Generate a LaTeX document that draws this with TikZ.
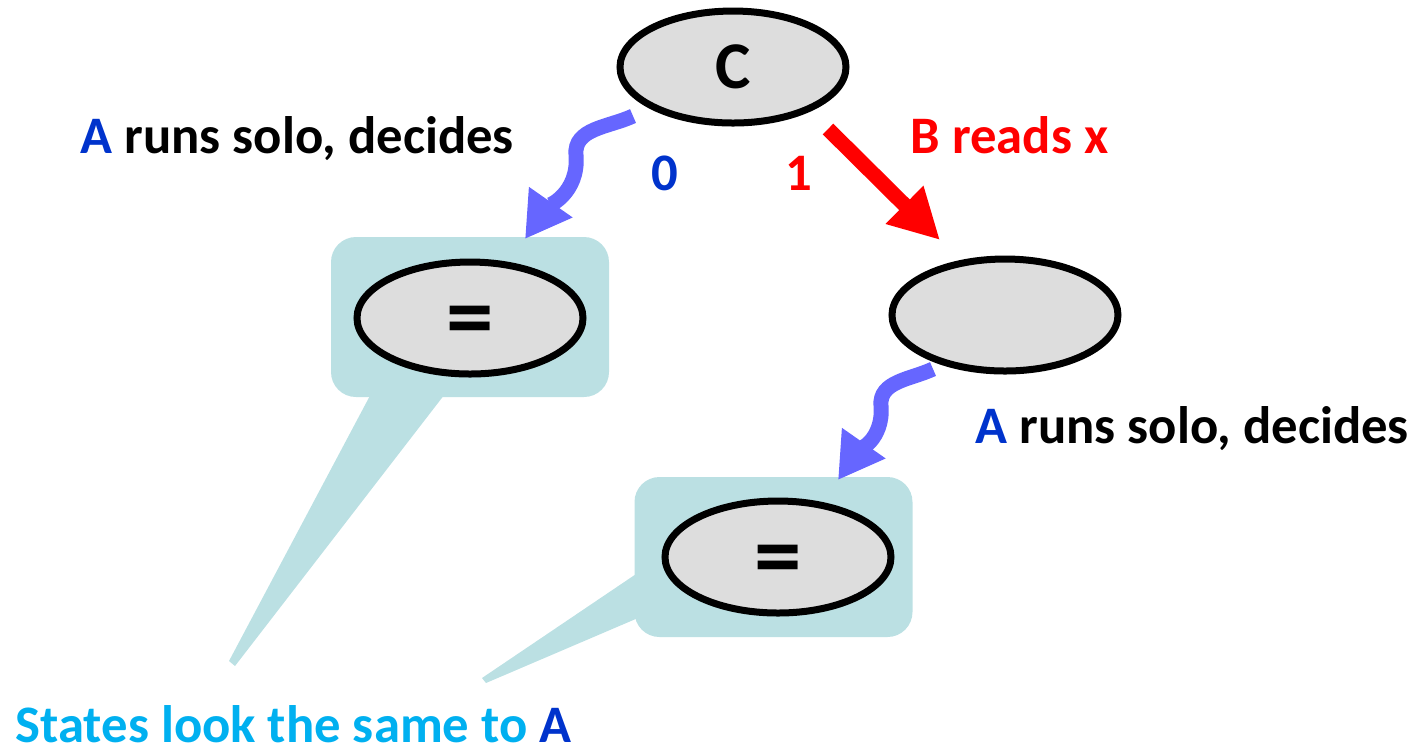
\documentclass[tikz,border=0pt]{standalone}
\usepackage{fontspec}
\setmainfont{Carlito}
\usepackage{xcolor}
\usepackage{tikz}
\usetikzlibrary{positioning, shapes, arrows.meta, calc}

\definecolor{procblue}{HTML}{0033CC}
\definecolor{wavecol}{HTML}{6666FF}
\definecolor{calloutfill}{HTML}{BBE0E3}
\definecolor{statefill}{HTML}{DDDDDD}
\definecolor{notecyan}{HTML}{00B0F0}

\newcommand{\eqmark}{\raisebox{-0.9mm}[\height][0pt]{=}}

\begin{document}
\begin{tikzpicture}[
    state/.style={draw, ellipse, line width=0.07cm, fill=statefill, minimum width=2.26cm, minimum height=1.12cm, font=\fontsize{19}{22}\selectfont\bfseries},
    eqstate/.style={state, font=\fontsize{27}{30}\selectfont\bfseries},
    callout/.style={rectangle, rounded corners=0.25cm, fill=calloutfill, minimum width=2.78cm, minimum height=1.6cm},
    wave/.style={wavecol, line width=0.15cm, -{Triangle[length=0.45cm, width=0.5cm]}},
    note/.style={font=\fontsize{15}{18}\selectfont\bfseries, inner sep=0pt}
  ]
      \useasboundingbox (0,0) rectangle (14.22,-7.52);

      % Callout boxes and their tails
      \fill[calloutfill] (3.73,-3.90) -- (4.48,-3.90) -- (2.35,-6.66) -- (2.29,-6.61) -- cycle;
      \fill[calloutfill] (6.45,-5.68) -- (6.45,-6.15) -- (4.86,-6.83) -- (4.82,-6.78) -- cycle;
      \node[callout] (boxleft) at (4.70,-3.17) {};
      \node[callout] (boxlow) at (7.735,-5.57) {};

      % States
      \node[state] (c) at (7.33,-0.67) {C};
      \node[eqstate] (eqleft) at (4.70,-3.18) {\eqmark};
      \node[state] (right) at (10.05,-3.15) {};
      \node[eqstate] (eqlow) at (7.78,-5.57) {\eqmark};

      % Arrow end points
      \coordinate (w1s) at (6.33,-1.16);
      \coordinate (w1e) at (5.25,-2.39);
      \coordinate (w2s) at (9.33,-3.69);
      \coordinate (w2e) at (8.38,-4.80);
      \coordinate (rs) at (8.28,-1.29);
      \coordinate (re) at (9.40,-2.40);

      % Arrows
      \draw[wave] (w1s) to[out=205,in=95] (5.76,-1.55) to[out=-85,in=55] (w1e);
      \draw[wave] (w2s) to[out=205,in=95] (8.81,-4.06) to[out=-85,in=55] (w2e);
      \draw[red, line width=0.15cm, -{Triangle[length=0.5cm, width=0.5cm]}] (rs) -- (re);

      % Labels
      \node[note, anchor=base west] (solo) at (0.80,-1.53) {\textcolor{procblue}{A} runs solo, decides};
      \node[note, procblue, anchor=base] (zero) at (6.65,-1.90) {0};
      \node[note, red, anchor=base] (one) at (7.99,-1.90) {1};
      \node[note, red, anchor=base west] (readx) at (9.10,-1.53) {B reads x};
      \node[note, anchor=base west] (solotwo) at (9.75,-4.43) {\textcolor{procblue}{A} runs solo, decides};
      \node[note, notecyan, anchor=base west] (same) at (0.15,-7.42) {States look the same to \textcolor{procblue}{A}};
\end{tikzpicture}
\end{document}
